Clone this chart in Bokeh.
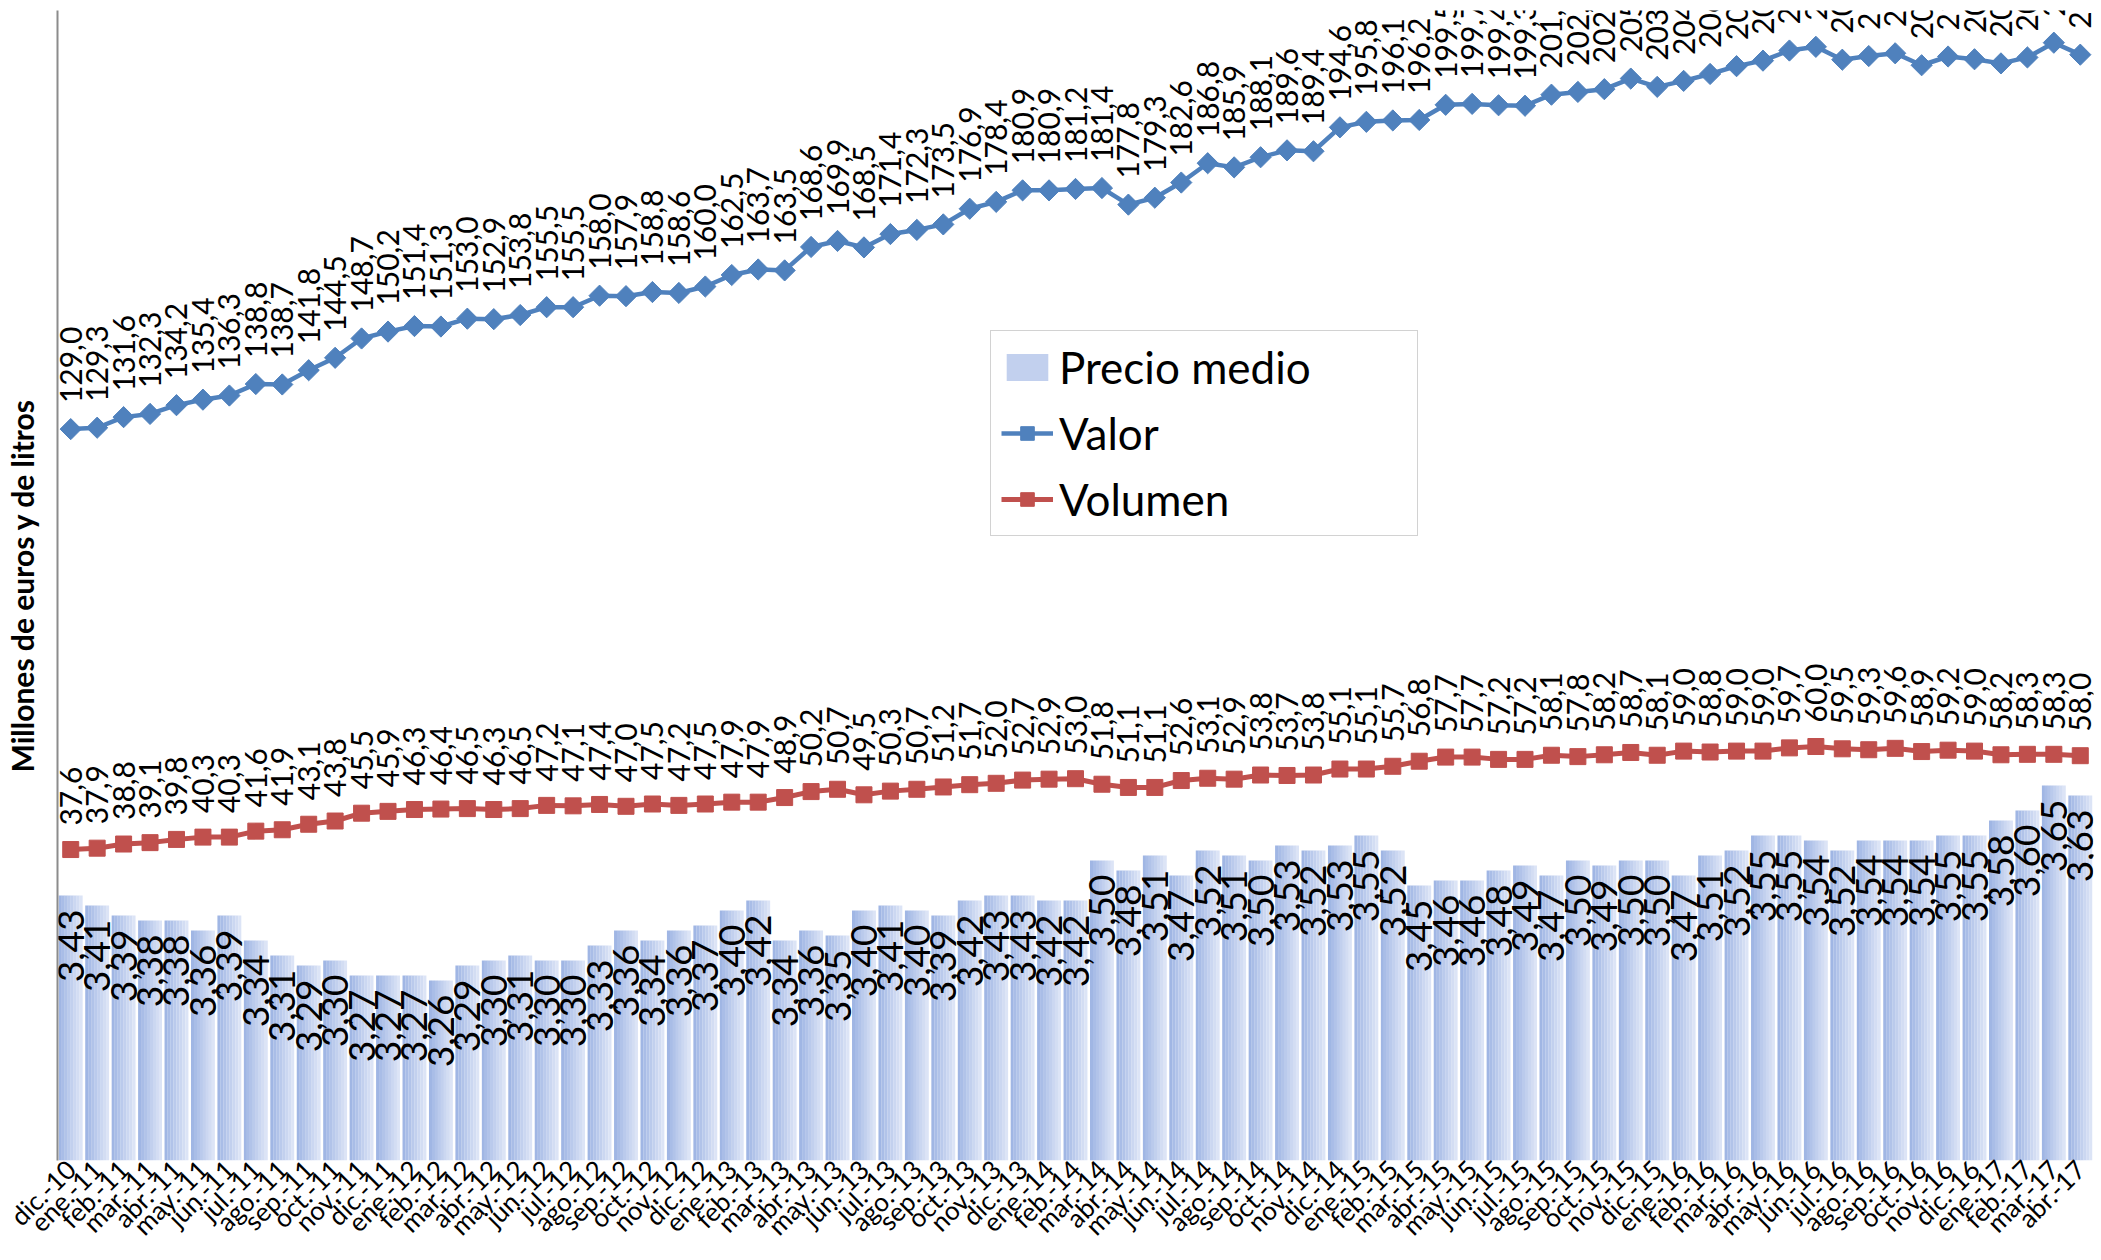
import math
from bokeh.plotting import figure
from bokeh.models import ColumnDataSource, Range1d, FixedTicker, Legend, LegendItem
from bokeh.transform import dodge
from bokeh.core.properties import value
from bokeh.embed import file_html
from bokeh.resources import INLINE

meses = [
    "dic.-10",
    "ene.-11", "feb.-11", "mar.-11", "abr.-11", "may.-11", "jun.-11",
    "jul.-11", "ago.-11", "sep.-11", "oct.-11", "nov.-11", "dic.-11",
    "ene.-12", "feb.-12", "mar.-12", "abr.-12", "may.-12", "jun.-12",
    "jul.-12", "ago.-12", "sep.-12", "oct.-12", "nov.-12", "dic.-12",
    "ene.-13", "feb.-13", "mar.-13", "abr.-13", "may.-13", "jun.-13",
    "jul.-13", "ago.-13", "sep.-13", "oct.-13", "nov.-13", "dic.-13",
    "ene.-14", "feb.-14", "mar.-14", "abr.-14", "may.-14", "jun.-14",
    "jul.-14", "ago.-14", "sep.-14", "oct.-14", "nov.-14", "dic.-14",
    "ene.-15", "feb.-15", "mar.-15", "abr.-15", "may.-15", "jun.-15",
    "jul.-15", "ago.-15", "sep.-15", "oct.-15", "nov.-15", "dic.-15",
    "ene.-16", "feb.-16", "mar.-16", "abr.-16", "may.-16", "jun.-16",
    "jul.-16", "ago.-16", "sep.-16", "oct.-16", "nov.-16", "dic.-16",
    "ene.-17", "feb.-17", "mar.-17", "abr.-17",
]

precio_medio = [
    3.43, 3.41, 3.39, 3.38, 3.38, 3.36, 3.39, 3.34, 3.31, 3.29, 3.30, 3.27, 3.27,
    3.27, 3.26, 3.29, 3.30, 3.31, 3.30, 3.30, 3.33, 3.36, 3.34, 3.36, 3.37,
    3.40, 3.42, 3.34, 3.36, 3.35, 3.40, 3.41, 3.40, 3.39, 3.42, 3.43, 3.43,
    3.42, 3.42, 3.50, 3.48, 3.51, 3.47, 3.52, 3.51, 3.50, 3.53, 3.52, 3.53,
    3.55, 3.52, 3.45, 3.46, 3.46, 3.48, 3.49, 3.47, 3.50, 3.49, 3.50, 3.50,
    3.47, 3.51, 3.52, 3.55, 3.55, 3.54, 3.52, 3.54, 3.54, 3.54, 3.55, 3.55,
    3.58, 3.60, 3.65, 3.63,
]

valor = [
    129.0, 129.3, 131.6, 132.3, 134.2, 135.4, 136.3, 138.8, 138.7, 141.8, 144.5, 148.7, 150.2,
    151.4, 151.3, 153.0, 152.9, 153.8, 155.5, 155.5, 158.0, 157.9, 158.8, 158.6, 160.0,
    162.5, 163.7, 163.5, 168.6, 169.9, 168.5, 171.4, 172.3, 173.5, 176.9, 178.4, 180.9,
    180.9, 181.2, 181.4, 177.8, 179.3, 182.6, 186.8, 185.9, 188.1, 189.6, 189.4, 194.6,
    195.8, 196.1, 196.2, 199.5, 199.7, 199.4, 199.3, 201.7, 202.3, 202.9, 205.2, 203.4,
    204.7, 206.2, 207.9, 209.1, 211.3, 212.1, 209.3, 210.1, 210.7, 208.1, 210.0, 209.4,
    208.5, 209.8, 213.0, 210.4,
]

volumen = [
    37.6, 37.9, 38.8, 39.1, 39.8, 40.3, 40.3, 41.6, 41.9, 43.1, 43.8, 45.5, 45.9,
    46.3, 46.4, 46.5, 46.3, 46.5, 47.2, 47.1, 47.4, 47.0, 47.5, 47.2, 47.5,
    47.9, 47.9, 48.9, 50.2, 50.7, 49.5, 50.3, 50.7, 51.2, 51.7, 52.0, 52.7,
    52.9, 53.0, 51.8, 51.1, 51.1, 52.6, 53.1, 52.9, 53.8, 53.7, 53.8, 55.1,
    55.1, 55.7, 56.8, 57.7, 57.7, 57.2, 57.2, 58.1, 57.8, 58.2, 58.7, 58.1,
    59.0, 58.8, 59.0, 59.0, 59.7, 60.0, 59.5, 59.3, 59.6, 58.9, 59.2, 59.0,
    58.2, 58.3, 58.3, 58.0,
]

FONT = "Lato"
BLUE = "#4F81BD"
RED = "#C0504D"

xs = list(range(len(meses)))
src = ColumnDataSource(dict(
    x=xs,
    precio=precio_medio,
    valor=valor,
    volumen=volumen,
    precio_lbl=[f"{v:.2f}".replace(".", ",") for v in precio_medio],
    valor_lbl=[f"{v:.1f}".replace(".", ",") for v in valor],
    volumen_lbl=[f"{v:.1f}".replace(".", ",") for v in volumen],
))

p = figure(
    width=2101, height=1260,
    x_range=Range1d(-0.5, len(meses) - 0.5),
    y_range=Range1d(-30, 220),
    output_backend="svg", toolbar_location=None,
    min_border_left=56, min_border_right=8, min_border_top=10, min_border_bottom=100,
)
p.extra_y_ranges = {"bar": Range1d(2.9, 5.2)}
p.outline_line_color = None
p.xgrid.grid_line_color = None
p.ygrid.grid_line_color = None
p.background_fill_color = "white"
p.border_fill_color = "white"

# bars with a left-to-right light gradient made of thin strips
n_strips = 8
bar_w = 0.9
c0 = (160, 182, 228)
c1 = (220, 228, 246)
strip_renderers = []
for k in range(n_strips):
    t = k / (n_strips - 1)
    col = "#%02x%02x%02x" % tuple(round(a + (b - a) * t) for a, b in zip(c0, c1))
    off = -bar_w / 2 + bar_w / n_strips * (k + 0.5)
    r = p.vbar(x=dodge("x", off), top="precio", bottom=2.9, width=bar_w / n_strips * 1.03,
               source=src, y_range_name="bar", fill_color=col, line_color=None)
    strip_renderers.append(r)

p.text(x="x", y="precio", text="precio_lbl", source=src, y_range_name="bar",
       angle=math.pi / 2, text_align="right", text_baseline="middle", y_offset=14,
       text_font=value(FONT), text_font_size="37px", text_color="black")

# lines
lv = p.line("x", "valor", source=src, line_color=BLUE, line_width=4.5)
mv = p.scatter("x", "valor", source=src, marker="square", angle=math.pi / 4, size=15,
               fill_color=BLUE, line_color=BLUE)
lr = p.line("x", "volumen", source=src, line_color=RED, line_width=5)
mr = p.scatter("x", "volumen", source=src, marker="square", size=16,
               fill_color=RED, line_color=RED)

p.text(x="x", y="valor", text="valor_lbl", source=src,
       angle=math.pi / 2, text_align="left", text_baseline="middle", y_offset=-26,
       text_font=value(FONT), text_font_size="30px", text_color="black")
p.text(x="x", y="volumen", text="volumen_lbl", source=src,
       angle=math.pi / 2, text_align="left", text_baseline="middle", y_offset=-24,
       text_font=value(FONT), text_font_size="30px", text_color="black")

# axes
p.xaxis.ticker = FixedTicker(ticks=xs)
p.xaxis.major_label_overrides = {i: m for i, m in enumerate(meses)}
p.xaxis.major_label_orientation = math.pi / 4
p.xaxis.axis_line_color = None
p.xaxis.major_tick_line_color = None
p.xaxis.minor_tick_line_color = None
p.xaxis.major_tick_out = 0
p.xaxis.major_tick_in = 0
p.xaxis.major_label_standoff = 4
p.xaxis.major_label_text_font = FONT
p.xaxis.major_label_text_font_size = "26px"
p.xaxis.major_label_text_color = "black"

p.yaxis.ticker = FixedTicker(ticks=[])
p.yaxis.major_tick_line_color = None
p.yaxis.minor_tick_line_color = None
p.yaxis.major_tick_out = 0
p.yaxis.major_label_standoff = 0
p.yaxis.axis_line_color = "#8C8C8C"
p.yaxis.axis_line_width = 2
p.yaxis.axis_label = "Millones de euros y de litros"
p.yaxis.axis_label_text_font = FONT
p.yaxis.axis_label_text_font_style = "bold"
p.yaxis.axis_label_text_font_size = "30px"
p.yaxis.axis_label_text_color = "black"
p.yaxis.axis_label_standoff = 18

legend = Legend(items=[
    LegendItem(label="Precio medio", renderers=[strip_renderers[n_strips // 2]]),
    LegendItem(label="Valor", renderers=[lv, mv]),
    LegendItem(label="Volumen", renderers=[lr, mr]),
], location=(933, 624))
legend.label_text_font = FONT
legend.label_text_font_size = "44px"
legend.label_text_color = "black"
legend.glyph_width = 52
legend.glyph_height = 34
legend.label_height = 46
legend.label_width = 348
legend.label_standoff = 6
legend.spacing = 14
legend.padding = 10
legend.margin = 0
legend.border_line_color = "#A6A6A6"
legend.border_line_width = 1.5
legend.background_fill_color = "white"
legend.background_fill_alpha = 1.0
p.add_layout(legend, "center")

open("out.html", "w").write(file_html(p, INLINE))
